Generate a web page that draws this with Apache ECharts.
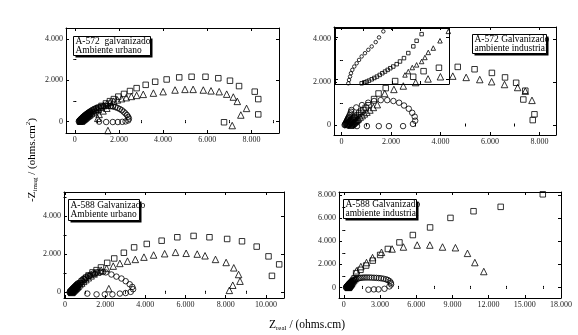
<!DOCTYPE html>
<html>
<head>
<meta charset="utf-8">
<script src="https://cdn.jsdelivr.net/npm/echarts@6/dist/echarts.min.js"></script>
<style>
  html, body { margin: 0; padding: 0; background: #fff; }
  #chart { width: 578px; height: 335px; }
</style>
</head>
<body>
<div id="chart"></div>
<script>
// A-572 galvanizado, ambiente urbano
const p1Circles = [[180,10],[200,30],[220,60],[250,90],[270,120],[300,150],[330,180],[360,210],[390,240],[420,270],[450,300],[490,330],[520,360],[560,390],[600,420],[640,450],[680,480],[720,510],[800,570],[890,620],[980,660],[1080,700],[1180,730],[1290,750],[1400,760],[1510,760],[1620,750],[1730,730],[1840,700],[1940,660],[2040,610],[2130,550],[2210,480],[2290,400],[2360,320],[2420,230],[2450,140],[2420,60],[2300,10],[2150,-10],[1950,-20],[1720,-20],[1420,-20],[1100,0]];
const p1Squares = [[230,0],[250,10],[280,40],[300,60],[330,90],[350,110],[380,140],[410,170],[440,200],[470,230],[510,260],[540,290],[580,320],[610,350],[650,380],[690,410],[770,470],[860,530],[950,590],[1060,660],[1210,760],[1410,880],[1590,990],[1770,1090],[1970,1210],[2230,1340],[2500,1480],[2800,1620],[3210,1780],[3640,1930],[4160,2040],[4730,2140],[5290,2170],[5920,2170],[6500,2100],[7030,1980],[7440,1720],[8150,1450],[8310,1090],[8310,350],[6760,-30]];
const p1Triangles = [[300,20],[320,45],[350,70],[380,95],[410,120],[440,145],[470,170],[500,200],[540,230],[570,260],[610,290],[650,320],[690,350],[770,410],[860,470],[950,530],[1040,160],[1100,350],[1280,520],[1450,650],[1650,800],[1060,600],[1180,690],[1310,780],[1450,860],[1600,930],[1760,990],[1930,1050],[2120,1110],[2330,1160],[2560,1220],[2800,1270],[3100,1320],[3560,1380],[4000,1450],[4540,1530],[4990,1560],[5360,1560],[5820,1530],[6170,1490],[6540,1450],[6880,1330],[7180,1190],[7360,980],[7780,640],[7520,320],[7130,-190],[1500,-430]];

// A-572 galvanizado, ambiente industrial
const p2Circles = [[130,0],[150,30],[165,60],[180,90],[195,125],[210,160],[225,195],[240,230],[255,265],[270,300],[285,340],[300,380],[330,460],[360,540],[390,620],[400,700],[600,820],[830,930],[1080,1040],[1320,1120],[1590,1160],[1850,1160],[2100,1120],[2330,1040],[2530,910],[2720,760],[2860,570],[2960,390],[2980,200],[2890,50],[2490,-50],[1920,-50],[1510,-50],[1030,-50],[630,-50]];
const p2Squares = [[220,0],[250,20],[275,45],[300,70],[325,100],[350,130],[375,160],[400,190],[430,220],[460,250],[490,285],[520,320],[550,355],[580,390],[650,460],[720,540],[800,620],[880,700],[980,800],[1100,920],[1320,1210],[1500,1470],[1790,1720],[2170,2050],[2900,2250],[3320,2510],[3940,2670],[4700,2710],[5380,2600],[6080,2430],[6610,2220],[7060,1970],[7430,1600],[7350,1190],[7800,500],[7730,230]];
const p2Triangles = [[380,-10],[400,10],[425,35],[450,60],[475,85],[500,110],[530,140],[560,170],[590,200],[620,230],[655,265],[690,300],[760,370],[840,440],[930,520],[1030,600],[1150,700],[1290,820],[1450,950],[1750,1470],[2120,1660],[2500,1820],[3000,1980],[3500,2150],[4000,2250],[4500,2280],[5040,2220],[5590,2120],[6070,2020],[6590,1890],[7120,1750],[7430,1580],[7700,1150]];
// inset of the A-572 industrial panel (low-range detail)
const insetCircles = [[117,6],[123,36],[132,66],[140,96],[152,126],[169,156],[190,185],[211,215],[234,246],[263,275],[292,305],[322,335],[357,374],[386,416],[424,470]];
const insetSquares = [[234,6],[257,15],[278,21],[298,30],[322,42],[345,54],[368,66],[392,81],[415,96],[439,111],[462,126],[485,141],[511,156],[541,177],[570,201],[605,231],[643,276],[687,336],[716,386],[760,445]];
const insetTriangles = [[614,81],[643,111],[678,147],[716,171],[760,201],[789,237],[818,282],[862,321],[921,386],[994,470]];

// A-588 galvanizado, ambiente urbano
const p3Circles = [[230,0],[250,30],[275,60],[300,90],[330,125],[360,160],[390,195],[420,230],[455,265],[490,300],[525,340],[560,380],[600,420],[640,460],[740,460],[990,680],[1240,860],[1490,960],[1740,1040],[820,620],[920,700],[1030,780],[1150,860],[1280,930],[1420,990],[1570,1040],[1900,1060],[2030,1040],[2310,930],[2560,820],[2810,720],[3020,580],[3220,420],[3350,280],[3390,160],[3270,20],[3020,-40],[2730,-70],[2360,-110],[1980,-110],[1570,-110],[1110,-70]];
const p3Squares = [[280,0],[300,20],[325,45],[350,70],[375,100],[400,130],[430,160],[460,190],[490,220],[520,250],[555,285],[590,320],[625,355],[660,390],[740,470],[830,560],[930,650],[1040,760],[1170,880],[1370,1040],[1570,1160],[1790,1300],[2100,1540],[2450,1770],[2930,2070],[3440,2350],[4070,2530],[4810,2700],[5590,2880],[6400,2950],[7190,2880],[8070,2790],[8810,2670],[9540,2390],[10130,1880],[10660,1460],[10300,860]];
const p3Triangles = [[330,-10],[350,10],[375,35],[400,60],[430,90],[460,120],[490,150],[520,180],[555,215],[590,250],[625,285],[660,320],[740,400],[830,480],[930,570],[1040,660],[1160,760],[1300,860],[1450,960],[1620,1060],[1800,1160],[2070,1250],[2400,1370],[2730,1510],[3110,1630],[3500,1720],[3930,1840],[4410,1950],[4960,2020],[5500,2090],[6030,2040],[6580,2000],[6970,1910],[7490,1720],[8020,1560],[8400,1280],[8640,930],[8710,580],[8350,370],[8180,100],[2180,190]];

// A-588 galvanizado, ambiente industrial
const p4Circles = [[180,-10],[200,20],[225,50],[250,80],[275,115],[300,150],[330,185],[360,220],[390,260],[420,300],[455,340],[490,380],[570,450],[660,520],[760,580],[870,640],[990,700],[1120,750],[1260,800],[1410,830],[1570,850],[1740,860],[1920,860],[2110,860],[2300,850],[2500,840],[2700,830],[2900,810],[3090,790],[3300,750],[3500,700],[3650,640],[3800,540],[3900,400],[3920,260],[3780,90],[3370,-120],[2870,-170],[2490,-170],[2040,-200]];
const p4Squares = [[320,-20],[350,20],[375,50],[400,80],[425,115],[450,150],[480,190],[510,230],[540,275],[570,320],[605,370],[640,420],[720,530],[800,650],[890,790],[1020,1240],[1380,1530],[1850,1900],[2400,2330],[3010,2820],[3650,3340],[4610,3910],[5720,4550],[7150,5210],[8840,6040],[10750,6620],[13000,7000],[16490,8090]];
const p4Triangles = [[380,0],[400,30],[425,65],[450,100],[480,140],[510,180],[545,225],[580,270],[615,320],[650,370],[730,480],[820,600],[920,740],[1050,1440],[1410,1810],[1880,2160],[2380,2590],[3120,3050],[4000,3340],[4940,3510],[6080,3680],[7130,3680],[8180,3510],[9250,3450],[10250,2960],[10860,2160],[11600,1380]];

// tick values
const ticksX12 = [0, 2000, 4000, 6000, 8000];
const minorX12 = [1000, 3000, 5000, 7000, 9000];
const ticksX3 = [0, 2000, 4000, 6000, 8000, 10000];
const minorX3 = [1000, 3000, 5000, 7000, 9000];
const ticksX4 = [0, 3000, 6000, 9000, 12000, 15000, 18000];
const minorX4 = [1500, 4500, 7500, 10500, 13500, 16500];
const ticksY = [0, 2000, 4000];
const minorY = [1000, 3000, 5000];
const ticksY4 = [0, 2000, 4000, 6000, 8000];
const minorY4 = [1000, 3000, 5000, 7000];
const insetTicksX = [250, 500, 750];
const insetTicksY = [40, 420];

const labels = [
  ['A-572  galvanizado', 'Ambiente urbano'],
  ['A-572 Galvanizado', 'ambiente industrial'],
  ['A-588 Galvanizado', 'Ambiente urbano'],
  ['A-588 Galvanizado', 'ambiente industrial']
];

const serif = 'Liberation Serif';
const fmt = v => String(v).replace(/\B(?=(\d{3})+(?!\d))/g, '.');

const grids = [];
const xAxes = [];
const yAxes = [];
const series = [];

// one labelled major axis plus a tick-only minor axis at the same edge
function edge(list, grid, pos, min, max, major, minor, showLabels) {
  const base = {
    type: 'value', gridIndex: grid, position: pos, min, max,
    splitLine: { show: false },
    axisLine: { show: true, onZero: false, lineStyle: { color: '#000', width: 1 } }
  };
  list.push({
    ...base,
    axisTick: { show: true, inside: true, length: 3, customValues: major, lineStyle: { color: '#000' } },
    axisLabel: {
      show: showLabels, customValues: major, formatter: fmt,
      fontFamily: serif, fontSize: 8, color: '#222', margin: 3
    }
  });
  list.push({
    ...base,
    axisLine: { show: false },
    axisTick: { show: minor.length > 0, inside: true, length: 1.5, customValues: minor, lineStyle: { color: '#000' } },
    axisLabel: { show: false }
  });
  return list.length - 2;
}

function panel(box, xr, yr, xt, xm, yt, ym, labelsOn, sets, size, bg) {
  const g = grids.length;
  grids.push({ left: box[0], top: box[1], width: box[2], height: box[3], show: !!bg, backgroundColor: '#fff', borderWidth: 0 });
  const xi = edge(xAxes, g, 'bottom', xr[0], xr[1], xt, xm, labelsOn);
  edge(xAxes, g, 'top', xr[0], xr[1], xt, xm, false);
  const yi = edge(yAxes, g, 'left', yr[0], yr[1], yt, ym, labelsOn);
  edge(yAxes, g, 'right', yr[0], yr[1], yt, ym, false);
  const syms = ['circle', 'rect', 'triangle'];
  const sizes = [size, size, size + 1];
  sets.forEach((d, k) => {
    series.push({
      type: 'scatter', data: d, xAxisIndex: xi, yAxisIndex: yi,
      symbol: syms[k], symbolSize: sizes[k], silent: true,
      itemStyle: { color: 'rgba(0,0,0,0)', borderColor: '#000', borderWidth: 1 }
    });
  });
}

panel([66, 28, 213, 105], [-400, 9250], [-550, 4530], ticksX12, minorX12, ticksY, minorY, true, [p1Circles, p1Squares, p1Triangles], 5.5);
panel([335, 28, 114, 56], [0, 1000], [0, 500], insetTicksX, [], insetTicksY, [], false, [insetCircles, insetSquares, insetTriangles], 3.5, true);
panel([334, 27, 222, 108], [-300, 8670], [-465, 4570], ticksX12, minorX12, ticksY, minorY, true, [p2Circles, p2Squares, p2Triangles], 5.5);
panel([64, 192, 220, 106], [-50, 10900], [-300, 5250], ticksX3, minorX3, ticksY, minorY, true, [p3Circles, p3Squares, p3Triangles], 5.5);
panel([339, 192, 222, 106], [-400, 18000], [-920, 8290], ticksX4, minorX4, ticksY4, minorY4, true, [p4Circles, p4Squares, p4Triangles], 5.5);

const boxes = [[73, 36, 77, 19], [472, 34, 74, 19], [68, 199, 71, 21], [343, 199, 73, 19]];

const graphic = [];
boxes.forEach((b, i) => {
  graphic.push({
    type: 'group', left: b[0], top: b[1], z: 100,
    children: [
      { type: 'rect', shape: { x: 2, y: 2, width: b[2], height: b[3] }, style: { fill: '#000' } },
      { type: 'rect', shape: { x: 0, y: 0, width: b[2], height: b[3] }, style: { fill: '#fff', stroke: '#000', lineWidth: 1 } },
      {
        type: 'text', x: 2, y: b[3] / 2,
        style: {
          text: labels[i].join('\n'), fontFamily: serif, fontSize: 9.5, lineHeight: 9,
          fill: '#000', verticalAlign: 'middle', align: 'left'
        }
      }
    ]
  });
});

graphic.push({
  type: 'text', x: 32, y: 160, rotation: Math.PI / 2,
  style: {
    text: '{a|-Z}{b|imag}{a| / (ohms.cm}{c|2}{a|)}',
    align: 'center', verticalAlign: 'middle', fill: '#000',
    rich: {
      a: { fontFamily: serif, fontSize: 11, lineHeight: 14, verticalAlign: 'middle' },
      b: { fontFamily: serif, fontSize: 7, lineHeight: 14, verticalAlign: 'bottom' },
      c: { fontFamily: serif, fontSize: 7, lineHeight: 14, verticalAlign: 'top' }
    }
  }
});
graphic.push({
  type: 'text', x: 307, y: 325,
  style: {
    text: '{a|Z}{b|real}{a| / (ohms.cm)}',
    align: 'center', verticalAlign: 'middle', fill: '#000',
    rich: {
      a: { fontFamily: serif, fontSize: 11.5, lineHeight: 14, verticalAlign: 'middle' },
      b: { fontFamily: serif, fontSize: 7, lineHeight: 14, verticalAlign: 'bottom' }
    }
  }
});

const chart = echarts.init(document.getElementById('chart'), null, { renderer: 'canvas' });
chart.setOption({
  animation: false,
  backgroundColor: '#fff',
  grid: grids,
  xAxis: xAxes,
  yAxis: yAxes,
  series: series,
  graphic: graphic
});
</script>
</body>
</html>
